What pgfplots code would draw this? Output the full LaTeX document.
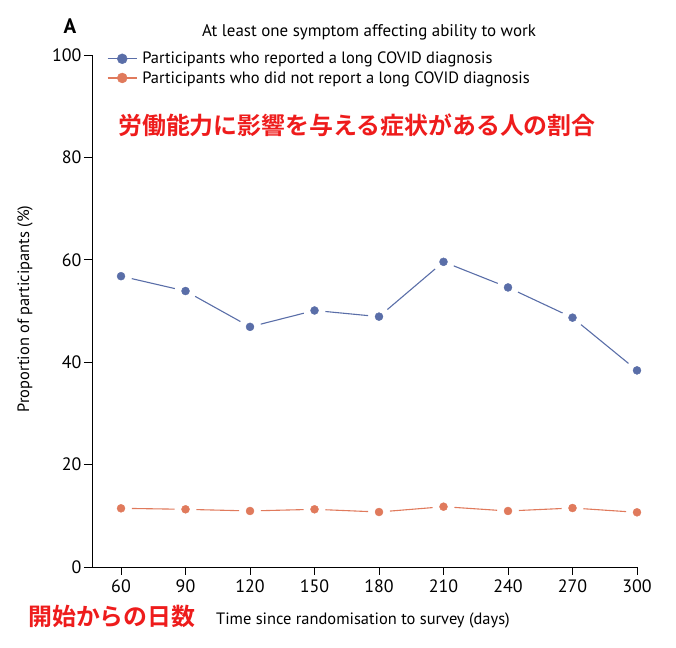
\documentclass[border=0pt]{standalone}
\usepackage{pgfplots}
\pgfplotsset{compat=1.18}
\usepackage{fontspec}
\setmainfont{PT Sans}
\newfontfamily\cjk{Noto Sans CJK JP}[BoldFont={Noto Sans CJK JP Bold}]
\definecolor{blueC}{HTML}{5A6EA8}
\definecolor{orangeC}{HTML}{E07A5C}
\definecolor{jred}{HTML}{EE1C1C}
\newcommand\tf{\fontsize{16.5}{19.5}\selectfont}
\begin{document}
\begin{tikzpicture}
\begin{axis}[
  at={(0,0)}, anchor=south west,
  scale only axis, width=545bp, height=512bp,
  xmin=46.5, xmax=300, ymin=0, ymax=100,
  axis x line*=bottom, axis y line*=left,
  axis line style={line width=0.9bp, -},
  xtick={60,90,...,300}, ytick={0,20,...,100},
  tick align=outside, major tick length=8bp,
  tick style={line width=0.9bp, black},
  /pgf/number format/assume math mode=true,
  ticklabel style={font=\fontsize{18}{21}\selectfont},
  xticklabel style={yshift=-1bp},
  yticklabel style={xshift=1bp},
  legend style={draw=none, fill=none, at={(15bp,517bp)}, anchor=north west,
    font=\tf, row sep=2bp, inner sep=0pt, nodes={inner xsep=5bp}},
  legend cell align=left,
  unbounded coords=jump,
  clip=false,
]
% connecting segments, stopping short of each marker
\addplot[blueC, line width=1.1bp, forget plot] coordinates {
  (64.99,56.32)(85.01,54.38) (90,nan)
  (94.47,52.86)(115.53,47.94) (120,nan)
  (124.96,47.43)(145.04,49.57) (150,nan)
  (155.09,49.90)(174.91,49.10) (180,nan)
  (183.90,50.29)(206.10,58.21) (210,nan)
  (214.76,58.81)(235.24,55.39) (240,nan)
  (244.63,53.69)(265.37,49.61) (270,nan)
  (273.96,47.34)(296.04,39.76)};
\addplot[orangeC, line width=1.1bp, forget plot] coordinates {
  (65.1,11.43)(84.9,11.30) (90,nan)
  (95.1,11.21)(114.9,11.00) (120,nan)
  (125.1,11.00)(144.9,11.21) (150,nan)
  (155.1,11.18)(174.9,10.83) (180,nan)
  (185.1,10.92)(204.9,11.60) (210,nan)
  (215.1,11.64)(234.9,11.08) (240,nan)
  (245.1,11.04)(264.9,11.42) (270,nan)
  (275.1,11.38)(294.9,10.82)};
\addplot[only marks, mark=*, mark size=4bp, blueC,
  legend image code/.code={\draw[blueC, line width=1.1bp] (0bp,0bp) -- (29bp,0bp); \fill[blueC] (14.5bp,0bp) circle (5bp);}]
  coordinates {(60,56.8)(90,53.9)(120,46.9)(150,50.1)(180,48.9)(210,59.6)(240,54.6)(270,48.7)(300,38.4)};
\addlegendentry{Participants who reported a long COVID diagnosis}
\addplot[only marks, mark=*, mark size=4bp, orangeC,
  legend image code/.code={\draw[orangeC, line width=1.1bp] (0bp,0bp) -- (29bp,0bp); \fill[orangeC] (14.5bp,0bp) circle (5bp);}]
  coordinates {(60,11.46)(90,11.27)(120,10.94)(150,11.27)(180,10.74)(210,11.78)(240,10.94)(270,11.52)(300,10.68)};
\addlegendentry{Participants who did not report a long COVID diagnosis}
\end{axis}
\path (-92bp,-81bp) rectangle (584bp,567bp);
\node[font=\fontsize{17}{20}\selectfont] at (277bp,535bp) {At least one symptom affecting ability to work};
\node[font=\fontsize{21}{24}\selectfont\bfseries] at (-22bp,541bp) {A};
\node[anchor=west, inner sep=0pt, text=jred, font=\cjk\bfseries\fontsize{24}{28}\selectfont] at (26bp,442bp) {労働能力に影響を与える症状がある人の割合};
\node[anchor=west, inner sep=0pt, text=jred, font=\cjk\bfseries\fontsize{24}{28}\selectfont] at (-64bp,-49bp) {開始からの日数};
\node[font=\tf] at (271bp,-53bp) {Time since randomisation to survey (days)};
\node[font=\tf, rotate=90] at (-67bp,258bp) {Proportion of participants (\%)};
\end{tikzpicture}
\end{document}
